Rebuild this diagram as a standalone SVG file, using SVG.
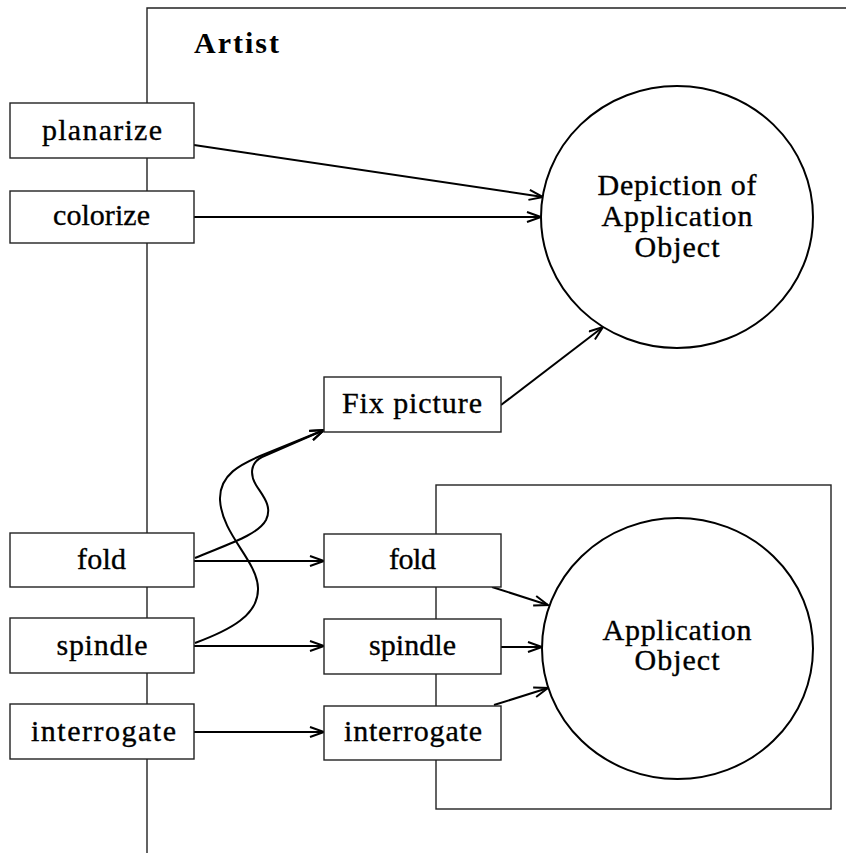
<svg xmlns="http://www.w3.org/2000/svg" width="846" height="853" viewBox="0 0 846 853">
<defs>
<marker id="arr" markerUnits="userSpaceOnUse" markerWidth="18" markerHeight="14" refX="15" refY="6" orient="auto">
<path d="M1,1 L15,6 L1,11" fill="none" stroke="#000" stroke-width="2"/>
</marker>
<style>
.frame{fill:none;stroke:#222;stroke-width:1.4}
.box{fill:#fff;stroke:#222;stroke-width:1.4}
.t{font-family:"Liberation Serif","Times New Roman",serif;font-size:30px;fill:#000;stroke:#000;stroke-width:0.35;text-anchor:middle}
.b{font-family:"Liberation Serif","Times New Roman",serif;font-size:30px;font-weight:bold;fill:#000}
.c{fill:#fff;stroke:#000;stroke-width:2}
.con{fill:none;stroke:#000;stroke-width:2;marker-end:url(#arr)}
</style>
</defs>
<rect width="846" height="853" fill="#fff"/>
<g id="artist-frame">
<path class="frame" d="M147,853 V8 H846"/>
<text class="b" x="194" y="53" textLength="85" lengthAdjust="spacing">Artist</text>
</g>
<g id="appobj-frame">
<rect class="frame" x="436" y="485" width="395" height="324"/>
</g>
<g id="connectors">
<line class="con" x1="194" y1="145" x2="543" y2="197"/>
<line class="con" x1="194" y1="217" x2="541" y2="217"/>
<line class="con" x1="501" y1="405" x2="603" y2="327"/>
<path class="con" d="M195,558 C228,544 258,535 266,520 C273,506 262,495 256,485 C250,475 250,463 262,457 L324,430"/>
<path class="con" d="M195,643 C230,630 259,615 258,588 C257,560 222,535 220,500 C219,475 240,464 265,454 L324,430"/>
<line class="con" x1="194" y1="561" x2="324" y2="561"/>
<line class="con" x1="194" y1="646" x2="324" y2="646"/>
<line class="con" x1="194" y1="732" x2="324" y2="732"/>
<line class="con" x1="492" y1="587" x2="548" y2="605"/>
<line class="con" x1="501" y1="647" x2="542" y2="647"/>
<line class="con" x1="494" y1="705" x2="548" y2="688"/>
</g>
<g id="planarize"><rect class="box" x="10" y="103" width="184" height="55"/><text class="t" x="102" y="140" textLength="120" lengthAdjust="spacing">planarize</text></g>
<g id="colorize"><rect class="box" x="10" y="191" width="184" height="52"/><text class="t" x="101.5" y="225" textLength="97" lengthAdjust="spacing">colorize</text></g>
<g id="fold-left"><rect class="box" x="10" y="533" width="184" height="54"/><text class="t" x="101.5" y="569" textLength="49" lengthAdjust="spacing">fold</text></g>
<g id="spindle-left"><rect class="box" x="10" y="618" width="184" height="55"/><text class="t" x="102" y="655" textLength="91" lengthAdjust="spacing">spindle</text></g>
<g id="interrogate-left"><rect class="box" x="10" y="704" width="184" height="55"/><text class="t" x="103.5" y="741" textLength="145" lengthAdjust="spacing">interrogate</text></g>
<g id="fix-picture"><rect class="box" x="324" y="377" width="177" height="55"/><text class="t" x="412" y="413" textLength="140" lengthAdjust="spacing">Fix picture</text></g>
<g id="fold-mid"><rect class="box" x="324" y="534" width="177" height="53"/><text class="t" x="412.5" y="569" textLength="47" lengthAdjust="spacing">fold</text></g>
<g id="spindle-mid"><rect class="box" x="324" y="619" width="177" height="55"/><text class="t" x="412.5" y="655" textLength="87" lengthAdjust="spacing">spindle</text></g>
<g id="interrogate-mid"><rect class="box" x="324" y="706" width="177" height="54"/><text class="t" x="413" y="741" textLength="138" lengthAdjust="spacing">interrogate</text></g>
<g id="depiction">
<ellipse class="c" cx="677" cy="217" rx="136" ry="131"/>
<text class="t" x="677" y="195" textLength="159" lengthAdjust="spacing">Depiction of</text>
<text class="t" x="677" y="226" textLength="151" lengthAdjust="spacing">Application</text>
<text class="t" x="677" y="257" textLength="85" lengthAdjust="spacing">Object</text>
</g>
<g id="application-object">
<ellipse class="c" cx="677.5" cy="648.5" rx="135.5" ry="130.5"/>
<text class="t" x="677" y="640" textLength="149" lengthAdjust="spacing">Application</text>
<text class="t" x="677" y="670" textLength="85" lengthAdjust="spacing">Object</text>
</g>
</svg>
